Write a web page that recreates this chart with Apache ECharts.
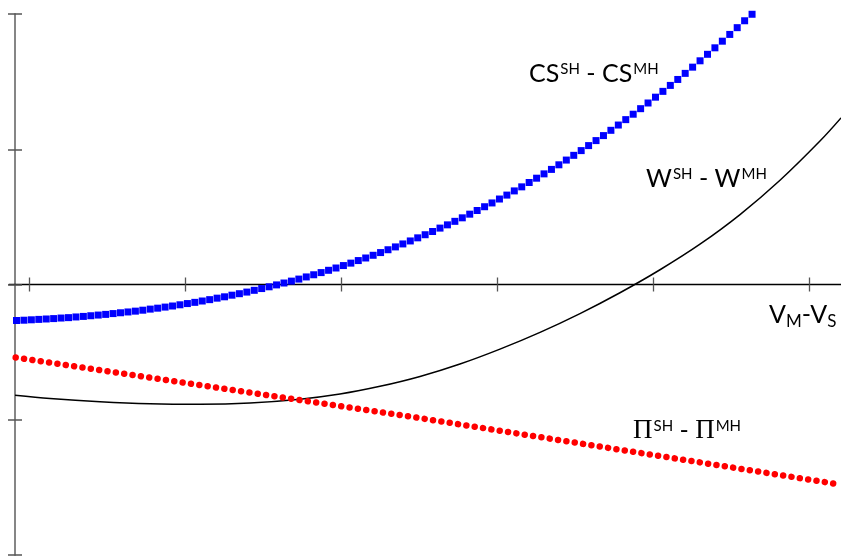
<!DOCTYPE html>
<html><head><meta charset="utf-8">
<script src="https://cdn.jsdelivr.net/npm/echarts@6/dist/echarts.min.js"></script>
<style>html,body{margin:0;padding:0;background:#fff}#c{width:841px;height:556px}</style>
</head><body><div id="c"></div>
<script>
// x unit: spacing between consecutive CS markers; y unit: one y-axis tick step
const xTickValues = [1.68, 22.68, 43.68, 64.67, 85.67, 106.67];
const yTickValues = [-2, -1, 0, 1, 2];

const csX = [0,1,2,3,4,5,6,7,8,9,10,11,12,13,14,15,16,17,18,19,20,21,22,23,24,25,26,27,28,29,30,31,32,33,34,35,36,37,38,39,40,41,42,43,44,45,46,47,48,49,50,51,52,53,54,55,56,57,58,59,60,61,62,63,64,65,66,67,68,69,70,71,72,73,74,75,76,77,78,79,80,81,82,83,84,85,86,87,88,89,90,91,92,93,94,95,96,97,98,99];
const csY = [-0.266,-0.264,-0.261,-0.258,-0.255,-0.252,-0.248,-0.245,-0.240,-0.236,
 -0.231,-0.226,-0.221,-0.215,-0.209,-0.203,-0.197,-0.190,-0.182,-0.175,
 -0.167,-0.159,-0.150,-0.141,-0.132,-0.122,-0.112,-0.101,-0.091,-0.079,
 -0.068,-0.056,-0.043,-0.030,-0.017,-0.003,0.011,0.025,0.040,0.056,
 0.072,0.088,0.105,0.122,0.140,0.158,0.177,0.196,0.216,0.236,
 0.257,0.278,0.300,0.322,0.345,0.368,0.392,0.417,0.441,0.467,
 0.493,0.520,0.547,0.575,0.603,0.632,0.661,0.692,0.722,0.754,
 0.786,0.818,0.851,0.885,0.920,0.955,0.990,1.027,1.064,1.101,
 1.140,1.179,1.219,1.259,1.300,1.342,1.385,1.428,1.472,1.516,
 1.561,1.607,1.654,1.702,1.750,1.799,1.849,1.899,1.950,1.998];

const wX = [-0.20,4.51,11.24,17.97,24.70,31.43,38.16,43.54,48.92,54.31,59.69,65.07,70.46,75.84,81.22,86.61,91.99,97.38,102.76,108.14,110.97];
const wY = [-0.818,-0.842,-0.866,-0.881,-0.885,-0.876,-0.848,-0.810,-0.753,-0.680,-0.588,-0.478,-0.354,-0.215,-0.061,0.109,0.298,0.517,0.771,1.061,1.232];

const piX = [-0.11, 54.31, 110.97];
const piY = [-0.540, -0.988, -1.480];

const zip = (a, b) => a.map((v, i) => [v, b[i]]);

const chart = echarts.init(document.getElementById('c'), null, {renderer: 'canvas'});
const xBase = {
  type: 'value', min: -1.01, max: 110.97, gridIndex: 0,
  axisLine: {show: true, onZero: true, onZeroAxisIndex: 0, lineStyle: {color: '#000', width: 1.3}},
  axisLabel: {show: false}, splitLine: {show: false},
};
const yBase = {
  type: 'value', min: yTickValues[0], max: yTickValues[yTickValues.length - 1], interval: 1, position: 'left', offset: -6,
  axisLine: {show: true, onZero: false, lineStyle: {color: '#868686', width: 2}},
  axisLabel: {show: false}, splitLine: {show: false},
};
const supStyle = {fontFamily: 'Lato', fontSize: 15, lineHeight: 15, verticalAlign: 'top', padding: [4, 0, 0, 1], fill: '#000'};
const mainStyle = {fontFamily: 'Lato', fontSize: 25, lineHeight: 32, fill: '#000'};
chart.setOption({
  animation: false,
  grid: {left: 9, right: 0, top: 14, bottom: 1},
  xAxis: [
    Object.assign({}, xBase, {position: 'bottom', axisTick: {show: true, inside: false, length: 7, customValues: xTickValues, lineStyle: {color: '#555', width: 1.3}}}),
    Object.assign({}, xBase, {position: 'bottom', axisLine: Object.assign({}, xBase.axisLine, {show: false}), axisTick: {show: true, inside: true, length: 7, customValues: xTickValues, lineStyle: {color: '#555', width: 1.3}}})
  ],
  yAxis: [
    Object.assign({}, yBase, {axisTick: {show: true, inside: false, length: 7, lineStyle: {color: '#555', width: 1.5}}}),
    Object.assign({}, yBase, {axisLine: {show: false, onZero: false}, axisTick: {show: true, inside: true, length: 7, lineStyle: {color: '#555', width: 1.5}}})
  ],
  series: [
    {type: 'line', name: 'W', xAxisIndex: 0, yAxisIndex: 0, data: zip(wX, wY), symbol: 'none', smooth: 0.35,
     lineStyle: {color: '#000', width: 1.5}, z: 3},
    {type: 'line', name: 'CS', xAxisIndex: 0, yAxisIndex: 0, data: zip(csX, csY), symbol: 'rect', symbolSize: 7, clip: false,
     showSymbol: true, showAllSymbol: true, itemStyle: {color: '#0000ff'}, lineStyle: {width: 0, opacity: 0}, z: 4},
    {type: 'line', name: 'PI', xAxisIndex: 0, yAxisIndex: 0, data: zip(piX, piY), symbol: 'none',
     lineStyle: {color: '#ff0000', width: 6.5, type: [0.01, 8.43], cap: 'round'}, z: 5}
  ],
  graphic: [
    {type: 'text', left: 529, top: 58, z: 10, style: {
      text: '{m|CS}{s|SH}{m| - CS}{s|MH}', rich: {m: mainStyle, s: supStyle}}},
    {type: 'text', left: 646, top: 163, z: 10, style: {
      text: '{m|W}{s|SH}{m| - W}{s|MH}', rich: {m: mainStyle, s: supStyle}}},
    {type: 'text', left: 633, top: 415, z: 10, style: {
      text: '{p|Π}{s|SH}{m| - }{p|Π}{s|MH}',
      rich: {p: {fontFamily: 'Liberation Serif', fontSize: 27, lineHeight: 32, fill: '#000'}, m: mainStyle, s: supStyle}}},
    {type: 'text', left: 769, top: 302, z: 10, style: {
      text: '{m|V}{b|M}{m|-V}{b|S}',
      rich: {m: mainStyle, b: {fontFamily: 'Lato', fontSize: 17, lineHeight: 17, verticalAlign: 'bottom', fill: '#000'}}}}
  ]
});
</script>
</body></html>
